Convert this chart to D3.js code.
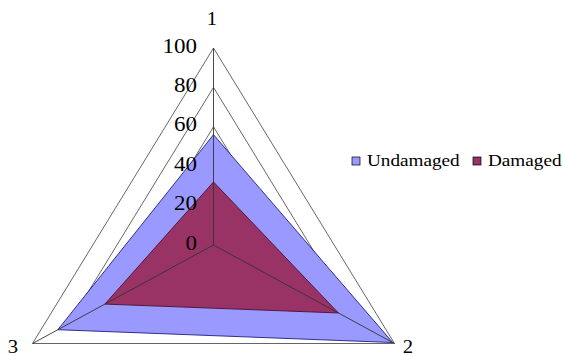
<!DOCTYPE html>
<html>
<head>
<meta charset="utf-8">
<script src="https://cdn.jsdelivr.net/npm/d3@7"></script>
<style>
  body { margin: 0; background: #fff; }
  text { font-family: 'Liberation Serif', Tinos, 'Times New Roman', Times, serif; }
</style>
</head>
<body>
<svg width="563" height="356"></svg>
<script>
// data
const axes = ["1", "2", "3"];
const ticks = [0, 20, 40, 60, 80, 100];
const seriesNames = ["Undamaged", "Damaged"];
const undamaged = [56, 99, 86];
const damaged = [32, 69, 60];
const colors = ["#9999ff", "#993366"];
const strokes = ["#1f1f7a", "#4d1030"];

const svg = d3.select("svg");
const cx = 213.5, cy = 245;
const rx = 209, ry = 197;

// radial scale, 0..100 -> 0..1 of the radius
const r = d3.scaleLinear().domain([0, 100]).range([0, 1]);
const angle = d3.scaleBand().domain(axes).range([0, 2 * Math.PI]).paddingInner(0).align(0);

function pt(axis, v) {
    const a = angle(axis);
    return [cx + Math.sin(a) * r(v) * rx, cy - Math.cos(a) * r(v) * ry];
}

const line = d3.line().x(d => d[0]).y(d => d[1]).curve(d3.curveLinearClosed);

// grid triangles
svg.append("g")
    .selectAll("path")
    .data(ticks.filter(t => t > 0))
    .join("path")
    .attr("d", t => line(axes.map(a => pt(a, t))))
    .attr("fill", "none")
    .attr("stroke", "#555")
    .attr("stroke-width", 0.9);

// series polygons
const series = [undamaged, damaged];
svg.append("g")
    .selectAll("path")
    .data(series)
    .join("path")
    .attr("d", s => line(axes.map((a, i) => pt(a, s[i]))))
    .attr("fill", (d, i) => colors[i])
    .attr("stroke", (d, i) => strokes[i])
    .attr("stroke-width", 0.9);

// spokes
svg.append("g")
    .selectAll("line")
    .data(axes)
    .join("line")
    .attr("x1", cx).attr("y1", cy)
    .attr("x2", a => pt(a, 100)[0])
    .attr("y2", a => pt(a, 100)[1])
    .attr("stroke", "#333")
    .attr("stroke-width", 0.9);

// tick labels along axis 1
svg.append("g")
    .selectAll("text")
    .data(ticks)
    .join("text")
    .attr("transform", t => `translate(197,${pt("1", t)[1] + 4.5}) scale(1.15,1)`)
    .attr("text-anchor", "end")
    .attr("font-size", 20)
    .attr("fill", "#000")
    .text(t => t);

// axis labels
const labelPos = { "1": [212, 25], "2": [408, 353], "3": [13, 353] };
svg.append("g")
    .selectAll("text")
    .data(axes)
    .join("text")
    .attr("transform", a => `translate(${labelPos[a][0]},${labelPos[a][1]}) scale(1.15,1)`)
    .attr("text-anchor", "middle")
    .attr("font-size", 18)
    .text(a => a);

// legend
const legendX = [352, 473];
const lg = svg.append("g")
    .selectAll("g")
    .data(seriesNames)
    .join("g")
    .attr("transform", (d, i) => `translate(${legendX[i]},157)`);
lg.append("rect")
    .attr("width", 8).attr("height", 8)
    .attr("fill", (d, i) => colors[i])
    .attr("stroke", "#000").attr("stroke-width", 0.7);
lg.append("text")
    .attr("transform", "translate(15,8.5) scale(1.2,1)")
    .attr("font-size", 16)
    .text(d => d);
</script>
</body>
</html>
